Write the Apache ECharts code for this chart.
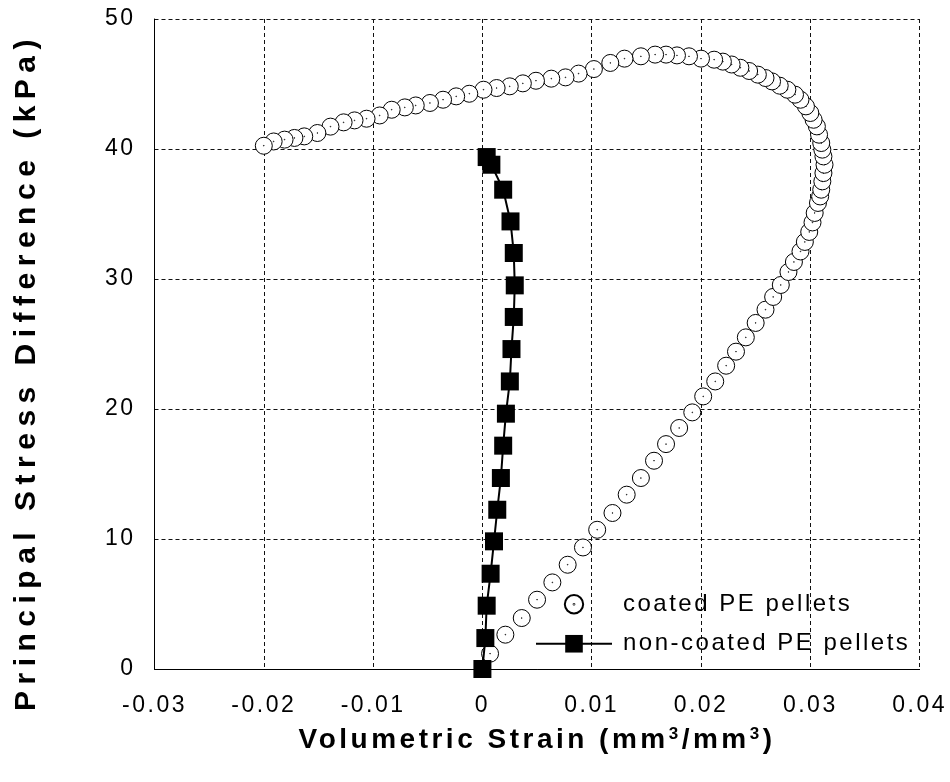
<!DOCTYPE html>
<html>
<head>
<meta charset="utf-8">
<script src="https://cdn.jsdelivr.net/npm/echarts@6/dist/echarts.min.js"></script>
<style>
html,body{margin:0;padding:0;background:#fff;}
#chart{width:950px;height:782px;}
</style>
</head>
<body>
<div id="chart"></div>
<script>
// Data
var coatedStrain = [
  0.0007, 0.0021, 0.0036, 0.0050, 0.0064, 0.0078, 0.0092, 0.0105, 0.0119, 0.0132,
  0.0145, 0.0157, 0.0168, 0.0180, 0.0192, 0.0202, 0.0213, 0.0223, 0.0232, 0.0241,
  0.0250, 0.0259, 0.0266, 0.0273, 0.0280, 0.0285, 0.0291, 0.0295, 0.0299, 0.0302,
  0.0304, 0.0307, 0.0309, 0.0310, 0.0311, 0.0312, 0.0313, 0.0312, 0.0311, 0.0310,
  0.0308, 0.0306, 0.0303, 0.0300, 0.0296, 0.0291, 0.0286, 0.0279, 0.0272, 0.0265,
  0.0259, 0.0252, 0.0244, 0.0236, 0.0228, 0.0220, 0.0212, 0.0200, 0.0189, 0.0178,
  0.0168, 0.0158, 0.0145, 0.0130, 0.0117, 0.0102, 0.0088, 0.0076, 0.0063, 0.0049,
  0.0037, 0.0025, 0.0013, 0.0001, -0.0012, -0.0024, -0.0036, -0.0048, -0.0061, -0.0071,
  -0.0083, -0.0094, -0.0106, -0.0117, -0.0127, -0.0139, -0.0151, -0.0163, -0.0172, -0.0181,
  -0.0191, -0.0200
];
var coatedStress = [
  1.18, 2.64, 3.92, 5.33, 6.66, 8.02, 9.35, 10.71, 12.0, 13.41,
  14.69, 16.02, 17.3, 18.54, 19.74, 20.97, 22.12, 23.33, 24.41, 25.51,
  26.62, 27.64, 28.62, 29.54, 30.54, 31.31, 32.12, 32.85, 33.62, 34.35,
  35.08, 35.85, 36.35, 36.87, 37.51, 38.15, 38.79, 39.43, 39.95, 40.46,
  41.1, 41.74, 42.25, 42.77, 43.28, 43.79, 44.18, 44.56, 44.87, 45.2,
  45.46, 45.72, 46.0, 46.25, 46.5, 46.72, 46.87, 46.95, 47.13, 47.2,
  47.26, 47.26, 47.13, 46.95, 46.62, 46.15, 45.8, 45.51, 45.41, 45.25,
  45.05, 44.82, 44.69, 44.56, 44.25, 44.05, 43.79, 43.54, 43.35, 43.2,
  43.02, 42.58, 42.33, 42.2, 42.05, 41.72, 41.23, 40.97, 40.85, 40.72,
  40.58, 40.25
];
var nonCoatedStrain = [
  0.0, 0.00027, 0.00039, 0.00075, 0.00106, 0.00136, 0.00169, 0.0019, 0.00215, 0.00251,
  0.00266, 0.00287, 0.00296, 0.00287, 0.00257, 0.0019, 0.00082, 0.00039
];
var nonCoatedStress = [
  0, 2.38, 4.87, 7.33, 9.82, 12.25, 14.69, 17.18, 19.64, 22.12,
  24.61, 27.08, 29.51, 32.0, 34.43, 36.87, 38.79, 39.38
];
var seriesNames = ['coated PE pellets', 'non-coated PE pellets'];
var xTicks = [-0.03, -0.02, -0.01, 0, 0.01, 0.02, 0.03, 0.04];
var yTicks = [0, 10, 20, 30, 40, 50];

// widen text spacing (the reference text is widely spaced)
(function () {
  var P = window.CanvasRenderingContext2D && CanvasRenderingContext2D.prototype;
  if (!P || !('letterSpacing' in P)) return;
  function sp(font) {
    if (/bold/.test(font)) {
      if (/30px/.test(font)) return '6.5px';
      return '3.5px';
    }
    return '2.5px';
  }
  var ft = P.fillText, mt = P.measureText;
  P.fillText = function (t, x, y, m) {
    var o = this.letterSpacing; this.letterSpacing = sp(this.font);
    if (m === undefined) ft.call(this, t, x, y); else ft.call(this, t, x, y, m);
    this.letterSpacing = o;
  };
  P.measureText = function (t) {
    var o = this.letterSpacing; this.letterSpacing = sp(this.font);
    var r = mt.call(this, t); this.letterSpacing = o; return r;
  };
})();

function zip(a, b) { return a.map(function (v, i) { return [v, b[i]]; }); }

var FONT = 'Liberation Sans, Arial, sans-serif';
var circleSym = 'path://M0,10A10,10,0,1,1,20,10A10,10,0,1,1,0,10ZM9.6,10A0.4,0.4,0,1,1,10.4,10A0.4,0.4,0,1,1,9.6,10Z';
var circleLegendIcon = 'path://M-2,-2M22,22M0,10A10,10,0,1,1,20,10A10,10,0,1,1,0,10ZM9.6,10A0.4,0.4,0,1,1,10.4,10A0.4,0.4,0,1,1,9.6,10Z';

var chart = echarts.init(document.getElementById('chart'), null, { renderer: 'canvas' });
chart.setOption({
  animation: false,
  backgroundColor: '#fff',
  grid: { left: 152, right: 29, top: 19, bottom: 113, containLabel: false },
  xAxis: {
    type: 'value',
    min: xTicks[0], max: xTicks[xTicks.length - 1], interval: 0.01,
    name: '{t|Volumetric Strain (mm}{s|3}{t|/mm}{s|3}{t|)}',
    nameLocation: 'middle', nameGap: 55,
    nameTextStyle: {
      rich: {
        t: { fontFamily: FONT, fontWeight: 'bold', fontSize: 28, lineHeight: 32, color: '#000' },
        s: { fontFamily: FONT, fontWeight: 'bold', fontSize: 17, lineHeight: 11, color: '#000', verticalAlign: 'top' }
      }
    },
    axisLine: { show: true, onZero: false, lineStyle: { color: '#000', width: 1 } },
    axisTick: { show: false },
    axisLabel: {
      margin: 24, fontFamily: FONT, fontSize: 23, color: '#000',
      formatter: function (v) { return String(Math.round(v * 100) / 100); }
    },
    splitLine: { show: true, lineStyle: { color: '#111', width: 1, type: [4, 3] } }
  },
  yAxis: {
    type: 'value',
    min: yTicks[0], max: yTicks[yTicks.length - 1], interval: 10,
    name: 'Principal Stress Difference (kPa)',
    nameLocation: 'middle', nameGap: 110, nameRotate: 90,
    nameTextStyle: { fontFamily: FONT, fontWeight: 'bold', fontSize: 30, color: '#000', padding: [0, 56, 0, 0] },
    axisLine: { show: true, onZero: false, lineStyle: { color: '#000', width: 1 } },
    axisTick: { show: false },
    axisLabel: { margin: 19, fontFamily: FONT, fontSize: 23, color: '#000' },
    splitLine: { show: true, lineStyle: { color: '#111', width: 1, type: [4, 3] } }
  },
  legend: {
    data: [{ name: seriesNames[0], icon: circleLegendIcon }, { name: seriesNames[1] }],
    orient: 'vertical',
    left: 535, top: 591, padding: 0,
    itemWidth: 76, itemHeight: 22, itemGap: 13,
    symbolKeepAspect: true,
    textStyle: { fontFamily: FONT, fontSize: 24, color: '#000', padding: [0, 0, 0, 6] },
    selectedMode: false
  },
  series: [
    {
      name: seriesNames[0],
      type: 'scatter',
      data: zip(coatedStrain, coatedStress),
      symbol: circleSym,
      symbolKeepAspect: true,
      symbolSize: 17,
      itemStyle: { color: '#fff', borderColor: '#000', borderWidth: 1, opacity: 1 },
      z: 2
    },
    {
      name: seriesNames[1],
      type: 'line',
      data: zip(nonCoatedStrain, nonCoatedStress),
      symbol: 'rect',
      symbolSize: 18,
      showSymbol: true,
      lineStyle: { color: '#000', width: 2 },
      itemStyle: { color: '#000', borderWidth: 0 },
      z: 3
    }
  ]
});
</script>
</body>
</html>
